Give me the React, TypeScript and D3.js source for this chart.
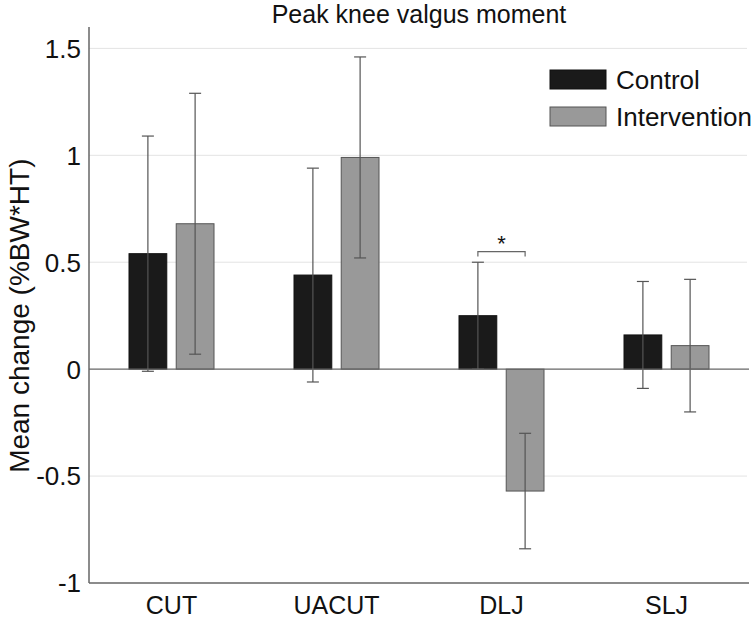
import * as d3 from "d3";

const WIDTH = 755;
const HEIGHT = 618;
const MARGIN = { top: 27, right: 6, bottom: 35, left: 89 };

const CATEGORIES = ["CUT", "UACUT", "DLJ", "SLJ"];
const SERIES = ["Control", "Intervention"];
const CONTROL = [0.54, 0.44, 0.25, 0.16];
const CONTROL_LO = [-0.01, -0.06, 0.0, -0.09];
const CONTROL_HI = [1.09, 0.94, 0.5, 0.41];
const INTERVENTION = [0.68, 0.99, -0.57, 0.11];
const INTERVENTION_LO = [0.07, 0.52, -0.84, -0.2];
const INTERVENTION_HI = [1.29, 1.46, -0.3, 0.42];
const Y_TICKS = [-1, -0.5, 0, 0.5, 1, 1.5];
const COLORS = ["#1a1a1a", "#999999"];
const STROKES = ["#111111", "#555555"];

export default function App() {
  const innerW = WIDTH - MARGIN.left - MARGIN.right;
  const innerH = HEIGHT - MARGIN.top - MARGIN.bottom;
  const y = d3.scaleLinear().domain([-1, 1.6]).range([MARGIN.top + innerH, MARGIN.top]);
  const x = d3.scaleBand().domain(CATEGORIES).range([MARGIN.left, MARGIN.left + innerW]);
  const x1 = d3.scaleBand().domain(SERIES).range([0, 85]).paddingInner(0.2);
  const groups = [
    { vals: CONTROL, lo: CONTROL_LO, hi: CONTROL_HI },
    { vals: INTERVENTION, lo: INTERVENTION_LO, hi: INTERVENTION_HI },
  ];
  const offset = (x.bandwidth() - 85) / 2;
  const fmt = (d: number) => (d === 0 ? "0" : String(d));

  // significance bracket over DLJ
  const dljX = x("DLJ")! + offset;
  const bx1 = dljX + x1("Control")! + x1.bandwidth() / 2;
  const bx2 = dljX + x1("Intervention")! + x1.bandwidth() / 2;
  const by = y(0.55);

  return (
    <svg
      width={WIDTH}
      height={HEIGHT}
      style={{ position: "absolute", left: 0, top: 0, fontFamily: "Liberation Sans, Arial, sans-serif" }}
    >
      <rect width={WIDTH} height={HEIGHT} fill="#fff" />
      {Y_TICKS.filter((t) => t !== 0 && t !== -1).map((t) => (
        <line key={t} x1={MARGIN.left} x2={MARGIN.left + innerW - 2} y1={y(t)} y2={y(t)} stroke="#e3e3e3" />
      ))}
      {Y_TICKS.map((t) => (
        <text key={t} x={81} y={y(t)} dy="0.36em" textAnchor="end" fontSize={26} fill="#111">
          {fmt(t)}
        </text>
      ))}
      <text x={419} y={23} textAnchor="middle" fontSize={25} fill="#111">
        Peak knee valgus moment
      </text>
      <text
        transform={`translate(29,${y(0.25)}) rotate(-90)`}
        textAnchor="middle"
        fontSize={28}
        fill="#111"
      >
        Mean change (%BW*HT)
      </text>
      {CATEGORIES.map((c) => (
        <text key={c} x={x(c)! + x.bandwidth() / 2} y={614} textAnchor="middle" fontSize={25} fill="#111">
          {c}
        </text>
      ))}
      {CATEGORIES.map((c, i) =>
        groups.map((g, s) => {
          const bx = x(c)! + offset + x1(SERIES[s])!;
          const v = g.vals[i];
          const cx = bx + x1.bandwidth() / 2;
          return (
            <g key={c + s}>
              <rect
                x={bx}
                y={Math.min(y(v), y(0))}
                width={x1.bandwidth()}
                height={Math.abs(y(v) - y(0))}
                fill={COLORS[s]}
                stroke={STROKES[s]}
                strokeWidth={1}
              />
              <line x1={cx} x2={cx} y1={y(g.lo[i])} y2={y(g.hi[i])} stroke="#555" strokeWidth={1.2} />
              <line x1={cx - 6} x2={cx + 6} y1={y(g.hi[i])} y2={y(g.hi[i])} stroke="#555" strokeWidth={1.2} />
              <line x1={cx - 6} x2={cx + 6} y1={y(g.lo[i])} y2={y(g.lo[i])} stroke="#555" strokeWidth={1.2} />
            </g>
          );
        }),
      )}
      <line x1={MARGIN.left} x2={MARGIN.left + innerW} y1={y(0)} y2={y(0)} stroke="#666" strokeWidth={1.2} />
      <line x1={MARGIN.left} x2={MARGIN.left} y1={MARGIN.top} y2={y(-1)} stroke="#666" strokeWidth={1.5} />
      <line x1={MARGIN.left} x2={MARGIN.left + innerW} y1={y(-1)} y2={y(-1)} stroke="#666" strokeWidth={1.5} />
      <path d={`M${bx1},${by + 5}V${by}H${bx2}V${by + 5}`} fill="none" stroke="#666" strokeWidth={1.2} />
      <text x={(bx1 + bx2) / 2} y={by - 1} textAnchor="middle" fontSize={22} fill="#111">
        *
      </text>
      {SERIES.map((s, i) => (
        <g key={s} transform={`translate(550,${70 + i * 37})`}>
          <rect width={56} height={19} fill={COLORS[i]} stroke={STROKES[i]} />
          <text x={66} y={10} dy="0.36em" fontSize={26} fill="#111">
            {s}
          </text>
        </g>
      ))}
    </svg>
  );
}
